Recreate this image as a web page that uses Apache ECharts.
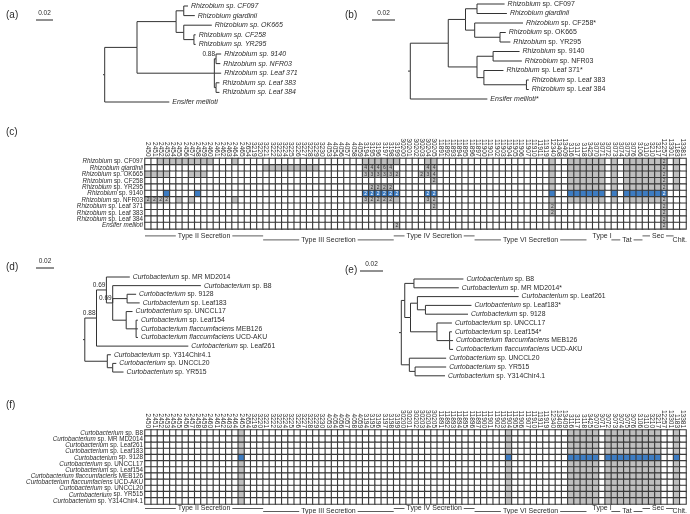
<!DOCTYPE html>
<html>
<head>
<meta charset="utf-8">
<script src="https://cdn.jsdelivr.net/npm/echarts@6/dist/echarts.min.js"></script>
<style>
  html, body { margin: 0; background: #fff; }
  #main { width: 690px; height: 514px; }
</style>
</head>
<body>
<div id="main"></div>
<script>
// gene numbers on the heatmap columns (same columns in (c) and (f))
var geneCols = ['2450','2451','2452','2453','2454','2455','2456','2457','2458','2459','2460','2461','2462','2463','2464','2465','2654',
  '3219','3220','3221','3222','3223','3224','3225','3226','3227','3228','3229','3230','4053','4054','4056','4057','4058','4059',
  '3194','3195','3196','3197','3198','3199','30200','30201','30202','30203','30204','30205',
  '11891','11892','11893','11894','11895','11896','11897','11900','11901','11902','11903','11904','11905','11906','11907','11910','11911','11919',
  '12340','13408','13409',
  '3116','3117','3118',
  '3425','3070','3071','3072','3073','3074','3075','3076','3106','3110','3210','3217',
  '12257','13301','1183','13381'];

// column groups (sizes) and where their captions sit under the grid (column spans)
var sectionNames = ['Type II Secretion', 'Type III Secretion', 'Type IV Secretion', 'Type VI Secretion', 'Type I', 'Tat', 'Sec', 'Chit.'];
var sectionSizes = [17, 18, 12, 18, 3, 3, 12, 4];
var captionSpans = [[0, 18], [19, 39], [40, 52], [53, 70], [72, 74], [75, 79], [80, 84], [85, 86]];

var rhizoRows = ['Rhizobium sp. CF097', 'Rhizobium giardinii', 'Rhizobium sp. OK665', 'Rhizobium sp. CF258', 'Rhizobium sp. YR295',
  'Rhizobium sp. 9140', 'Rhizobium sp. NFR03', 'Rhizobium sp. Leaf 371', 'Rhizobium sp. Leaf 383', 'Rhizobium sp. Leaf 384', 'Ensifer meliloti'];
// gene copies, one string per column group: 0 absent, 1 present, n = n copies
var rhizoCopies = [
  ['00111111111000100', '000000000000000000', '111111000011', '000000000000000000', '100', '111', '111010111111', '2010'],
  ['00000000000000000', '001111111110000000', '444640000044', '000000000000000000', '100', '111', '111010111111', '2010'],
  ['11110001110000000', '000000000000000000', '333332000234', '000000000000000000', '100', '111', '111010111111', '2010'],
  ['00000000000000000', '000000000000000000', '000000000002', '000000000000000000', '100', '111', '111010111111', '2010'],
  ['00000000000000000', '000000000000000000', '022220000000', '000000000000000000', '100', '111', '111010111111', '2010'],
  ['00010000100000000', '000000000000000000', '222222000022', '000000000000000000', '100', '111', '111010111111', '2000'],
  ['22220101000000100', '000000000000000000', '322221000032', '000000000000000000', '100', '111', '111010111111', '2000'],
  ['00000000000000000', '000000000000000000', '000000000002', '000000000000000000', '200', '000', '000000000000', '2000'],
  ['00000000000000000', '000000000000000000', '000000000000', '000000000000000000', '200', '000', '000000000000', '2000'],
  ['00000000000000000', '000000000000000000', '000000000000', '000000000000000000', '000', '000', '000000000000', '2000'],
  ['00000000000000000', '000000000000000000', '000002000000', '000000000000000000', '000', '000', '000000000000', '2000']
];
var rhizoHighlight = 'Rhizobium sp. 9140';

var curtoRows = ['Curtobacterium sp. B8', 'Curtobacterium sp. MR MD2014', 'Curtobacterium sp. Leaf261', 'Curtobacterium sp. Leaf183',
  'Curtobacterium sp. 9128', 'Curtobacterium sp. UNCCL17', 'Curtobacterium sp. Leaf154', 'Curtobacterium flaccumfaciens MEB126',
  'Curtobacterium flaccumfaciens UCD-AKU', 'Curtobacterium sp. UNCCL20', 'Curtobacterium sp. YR515', 'Curtobacterium sp. Y314Chir4.1'];
var curtoPattern = ['00000000000000010', '000000000000000000', '000000000000', '000000000001000000', '000', '111', '110111111111', '0010'];
var curtoCopies = curtoRows.map(function () { return curtoPattern; });
var curtoHighlight = 'Curtobacterium sp. 9128';

// trees (Newick, branch lengths in substitutions/site, internal labels = support)
var treeA = "((((('Rhizobium sp. CF097':0.005,'Rhizobium giardinii':0.013):0.009,('Rhizobium sp. OK665':0.033,('Rhizobium sp. CF258':0.002,'Rhizobium sp. YR295':0.002):0.012):0.009):0.046," +
  "(('Rhizobium sp. 9140':0.006,'Rhizobium sp. NFR03':0.005)0.88:0.002,'Rhizobium sp. Leaf 371':0.008,('Rhizobium sp. Leaf 383':0.004,'Rhizobium sp. Leaf 384':0.004):0.002):0.091):0.038," +
  "'Ensifer meliloti':0.076):0.002;";
var treeB = "((((('Rhizobium sp. CF097':0.024,'Rhizobium giardinii':0.026):0.010,('Rhizobium sp. CF258*':0.042,('Rhizobium sp. OK665':0.005,'Rhizobium sp. YR295':0.009):0.022):0.008):0.015," +
  "(('Rhizobium sp. 9140':0.023,'Rhizobium sp. NFR03':0.025):0.014,('Rhizobium sp. Leaf 371*':0.017,('Rhizobium sp. Leaf 383':0.002,'Rhizobium sp. Leaf 384':0.002):0.037):0.006):0.025):0.033," +
  "'Ensifer meliloti*':0.067):0.002;";
var treeD = "(((('Curtobacterium sp. MR MD2014':0.026,('Curtobacterium sp. B8':0.098,('Curtobacterium sp. 9128':0.010,'Curtobacterium sp. Leaf183':0.014):0.016," +
  "('Curtobacterium sp. UNCCL17':0.007,('Curtobacterium sp. Leaf154':0.002,'Curtobacterium flaccumfaciens MEB126':0.002,'Curtobacterium flaccumfaciens UCD-AKU':0.002):0.011):0.015)0.69:0.007)0.69:0.011," +
  "'Curtobacterium sp. Leaf261':0.102)0.88:0.013,('Curtobacterium sp. Y314Chir4.1':0.004,('Curtobacterium sp. UNCCL20':0.004,'Curtobacterium sp. YR515':0.012):0.006):0.025):0.002;";
var treeE = "(((('Curtobacterium sp. B8':0.043,'Curtobacterium sp. MR MD2014*':0.039):0.008,(('Curtobacterium sp. Leaf261':0.088,('Curtobacterium sp. Leaf183*':0.040,'Curtobacterium sp. 9128':0.037):0.007):0.006," +
  "('Curtobacterium sp. UNCCL17':0.013,('Curtobacterium sp. Leaf154*':0.002,'Curtobacterium flaccumfaciens MEB126':0.003,'Curtobacterium flaccumfaciens UCD-AKU':0.003):0.011):0.023):0.005):0.003," +
  "('Curtobacterium sp. UNCCL20':0.032,('Curtobacterium sp. YR515':0.027,'Curtobacterium sp. Y314Chir4.1':0.026):0.005):0.007):0.002;";

var FF = '"Liberation Sans", Arial, sans-serif';
var INK = '#2b2b2b';

function parseNewick(s) {
  var i = 0;
  function node() {
    var n = { children: [], label: '', len: 0 };
    if (s[i] === '(') {
      i++;
      n.children.push(node());
      while (s[i] === ',') { i++; n.children.push(node()); }
      i++;
    }
    if (s[i] === "'") {
      i++;
      while (s[i] !== "'") n.label += s[i++];
      i++;
    } else {
      while (i < s.length && ',):;'.indexOf(s[i]) < 0) n.label += s[i++];
    }
    if (s[i] === ':') {
      i++;
      var num = '';
      while (i < s.length && ',);'.indexOf(s[i]) < 0) num += s[i++];
      n.len = parseFloat(num);
    }
    return n;
  }
  return node();
}

function layoutTree(root) {
  var leaves = [], branches = [], supports = [];
  (function walk(n, x) {
    n.x = x;
    if (!n.children.length) { n.y = leaves.length; leaves.push(n); return; }
    n.children.forEach(function (c) { walk(c, x + c.len); });
    n.y = (n.children[0].y + n.children[n.children.length - 1].y) / 2;
    n.children.forEach(function (c) { branches.push([n.x, n.y, c.x, c.y]); });
    if (n.label) supports.push([n.x, n.y, supports.length, n.label]);
  })(root, 0);
  branches.push([-root.len, root.y, 0, root.y]);
  return { leaves: leaves, branches: branches, supports: supports };
}

function richName(name, allItalic) {
  if (allItalic) return '{i|' + name + '}';
  var w = name.split(' ');
  var k = w[1] === 'sp.' ? 1 : 2;
  var rest = w.slice(k).join(' ');
  return '{i|' + w.slice(0, k).join(' ') + '}' + (rest ? ' ' + rest : '');
}

var measureCtx = document.createElement('canvas').getContext('2d');
function textWidth(t, font) { measureCtx.font = font; return measureCtx.measureText(t).width; }

var grids = [], xAxes = [], yAxes = [], series = [];

// ---- trees ----
var treePanels = [
  { nw: treeA, rootX: 103, ppu: 850, top: 6, step: 9.6, bar: [36, 20], allItalic: true },
  { nw: treeB, rootX: 408, ppu: 1150, top: 4, step: 9.5, bar: [372, 20], allItalic: false },
  { nw: treeD, rootX: 83, ppu: 900, top: 277, step: 8.64, bar: [36, 268], allItalic: false },
  { nw: treeE, rootX: 399, ppu: 1150, top: 279, step: 8.8, bar: [360, 271], allItalic: false }
];

treePanels.forEach(function (tp) {
  var t = layoutTree(parseNewick(tp.nw));
  var n = t.leaves.length;
  var gi = grids.length;
  grids.push({ left: tp.rootX - 0.08 * tp.ppu, top: tp.top, width: 0.23 * tp.ppu, height: tp.step * (n - 1) });
  xAxes.push({ type: 'value', gridIndex: gi, min: -0.08, max: 0.15, show: false });
  yAxes.push({ type: 'value', gridIndex: gi, min: 0, max: n - 1, inverse: true, show: false });
  var fs = gi < 2 ? 7 : 6.8;

  series.push({
    type: 'custom', xAxisIndex: gi, yAxisIndex: gi, clip: false, silent: true,
    data: t.branches,
    renderItem: function (params, api) {
      var p = api.coord([api.value(0), api.value(1)]);
      var q0 = api.coord([api.value(0), api.value(3)]);
      var q = api.coord([api.value(2), api.value(3)]);
      return { type: 'polyline', shape: { points: [p, q0, q] }, style: { stroke: '#333', lineWidth: 1, fill: null } };
    }
  });
  series.push({
    type: 'custom', xAxisIndex: gi, yAxisIndex: gi, clip: false, silent: true,
    data: t.leaves.map(function (l, k) { return [l.x, l.y, k]; }),
    renderItem: function (params, api) {
      var p = api.coord([api.value(0), api.value(1)]);
      var name = t.leaves[api.value(2)].label;
      return {
        type: 'text', x: p[0] + 3, y: p[1],
        style: {
          text: richName(name, tp.allItalic), fontSize: fs, fontFamily: FF, fill: INK,
          align: 'left', verticalAlign: 'middle',
          rich: { i: { fontStyle: 'italic', fontSize: fs, fontFamily: FF, fill: INK } }
        }
      };
    }
  });
  if (t.supports.length) {
    series.push({
      type: 'custom', xAxisIndex: gi, yAxisIndex: gi, clip: false, silent: true,
      data: t.supports.map(function (s) { return [s[0], s[1], s[2]]; }),
      renderItem: function (params, api) {
        var p = api.coord([api.value(0), api.value(1)]);
        return {
          type: 'text', x: p[0] - 1, y: p[1] - 1,
          style: { text: t.supports[api.value(2)][3], fontSize: 6.5, fontFamily: FF, fill: INK, align: 'right', verticalAlign: 'bottom' }
        };
      }
    });
  }
  // scale bar 0.02
  var bx = (tp.bar[0] - tp.rootX) / tp.ppu, by = (tp.bar[1] - tp.top) / tp.step;
  series.push({
    type: 'custom', xAxisIndex: gi, yAxisIndex: gi, clip: false, silent: true,
    data: [[bx, by, 0.02]],
    renderItem: function (params, api) {
      var a = api.coord([api.value(0), api.value(1)]);
      var b = api.coord([api.value(0) + api.value(2), api.value(1)]);
      return {
        type: 'group', children: [
          { type: 'line', shape: { x1: a[0], y1: a[1], x2: b[0], y2: b[1] }, style: { stroke: '#222', lineWidth: 1 } },
          { type: 'text', x: (a[0] + b[0]) / 2, y: a[1] - 3, style: { text: String(api.value(2)), fontSize: 6.5, fontFamily: FF, fill: INK, align: 'center', verticalAlign: 'bottom' } }
        ]
      };
    }
  });
});

// ---- heatmaps ----
var heatIdx = [];
function heatCells(rows, copies, hi) {
  var out = [];
  copies.forEach(function (secs, r) {
    var s = secs.join('');
    for (var c = 0; c < s.length; c++) {
      var v = +s[c];
      var st = v === 0 ? 0 : (rows[r] === hi ? 2 : 1);
      out.push({ value: [c, r, v, st], label: { color: st === 2 ? '#ffffff' : '#333333' } });
    }
  });
  return out;
}

var secFont = '7px ' + FF;

function addHeatmap(rows, copies, hi, box, capGap, capStep) {
  var gi = grids.length;
  var nRows = rows.length;
  grids.push(box);
  xAxes.push({
    type: 'category', gridIndex: gi, data: geneCols, position: 'top',
    axisLine: { show: false }, axisTick: { show: false }, splitLine: { show: false },
    axisLabel: { interval: 0, rotate: 90, fontSize: 6.5, margin: 2, color: INK, fontFamily: FF }
  });
  yAxes.push({
    type: 'category', gridIndex: gi, data: rows, inverse: true,
    axisLine: { show: false }, axisTick: { show: false }, splitLine: { show: false },
    axisLabel: {
      interval: 0, fontSize: 6.3, margin: 2, color: INK, fontFamily: FF,
      formatter: function (v) { return richName(v, false); },
      rich: { i: { fontStyle: 'italic', fontSize: 6.3, fontFamily: FF, color: INK } }
    }
  });
  heatIdx.push(series.length);
  series.push({
    type: 'heatmap', xAxisIndex: gi, yAxisIndex: gi, silent: true,
    data: heatCells(rows, copies, hi),
    itemStyle: { borderColor: '#3a3a3a', borderWidth: 1.1 },
    label: {
      show: true, fontSize: 5, fontFamily: FF,
      formatter: function (p) { return p.value[2] > 1 ? String(p.value[2]) : ''; }
    },
    emphasis: { disabled: true }
  });
  series.push({
    type: 'custom', xAxisIndex: gi, yAxisIndex: gi, clip: false, silent: true,
    encode: { x: [0, 2], y: 1 },
    data: captionSpans.map(function (d, k) { return [d[0], nRows - 1, d[1], k % 2, k]; }),
    renderItem: function (params, api) {
      var a = api.coord([api.value(0), api.value(1)]);
      var b = api.coord([api.value(2), api.value(1)]);
      var sz = api.size([1, 1]);
      var x1 = a[0] - sz[0] / 2, x2 = b[0] + sz[0] / 2;
      var y = a[1] + sz[1] / 2 + capGap + api.value(3) * capStep;
      var t = sectionNames[api.value(4)];
      var tw = textWidth(t, secFont);
      var cx = (x1 + x2) / 2;
      var kids = [{ type: 'text', x: cx, y: y, style: { text: t, font: secFont, fill: INK, align: 'center', verticalAlign: 'middle' } }];
      if (cx - tw / 2 - 2 > x1) kids.push({ type: 'line', shape: { x1: x1, y1: y, x2: cx - tw / 2 - 2, y2: y }, style: { stroke: '#333', lineWidth: 0.8 } });
      if (cx + tw / 2 + 2 < x2) kids.push({ type: 'line', shape: { x1: cx + tw / 2 + 2, y1: y, x2: x2, y2: y }, style: { stroke: '#333', lineWidth: 0.8 } });
      return { type: 'group', children: kids };
    }
  });
}

addHeatmap(rhizoRows, rhizoCopies, rhizoHighlight, { left: 145, top: 158.5, width: 541, height: 70.4 }, 7, 4);
addHeatmap(curtoRows, curtoCopies, curtoHighlight, { left: 145, top: 430, width: 541, height: 74 }, 4.5, 3);

var panelLabels = [['(a)', 6, 10], ['(b)', 345, 10], ['(c)', 6, 127], ['(d)', 6, 262], ['(e)', 345, 265], ['(f)', 6, 400]];

var chart = echarts.init(document.getElementById('main'));
chart.setOption({
  animation: false,
  textStyle: { fontFamily: FF },
  grid: grids,
  xAxis: xAxes,
  yAxis: yAxes,
  visualMap: [{
    type: 'piecewise', show: false, dimension: 3, seriesIndex: heatIdx,
    pieces: [{ value: 0, color: '#ffffff' }, { value: 1, color: '#bfbfbf' }, { value: 2, color: '#3d7cc2' }]
  }],
  graphic: panelLabels.map(function (p) {
    return { type: 'text', x: p[1], y: p[2], style: { text: p[0], font: '10px ' + FF, fill: INK } };
  }),
  series: series
});
</script>
</body>
</html>
